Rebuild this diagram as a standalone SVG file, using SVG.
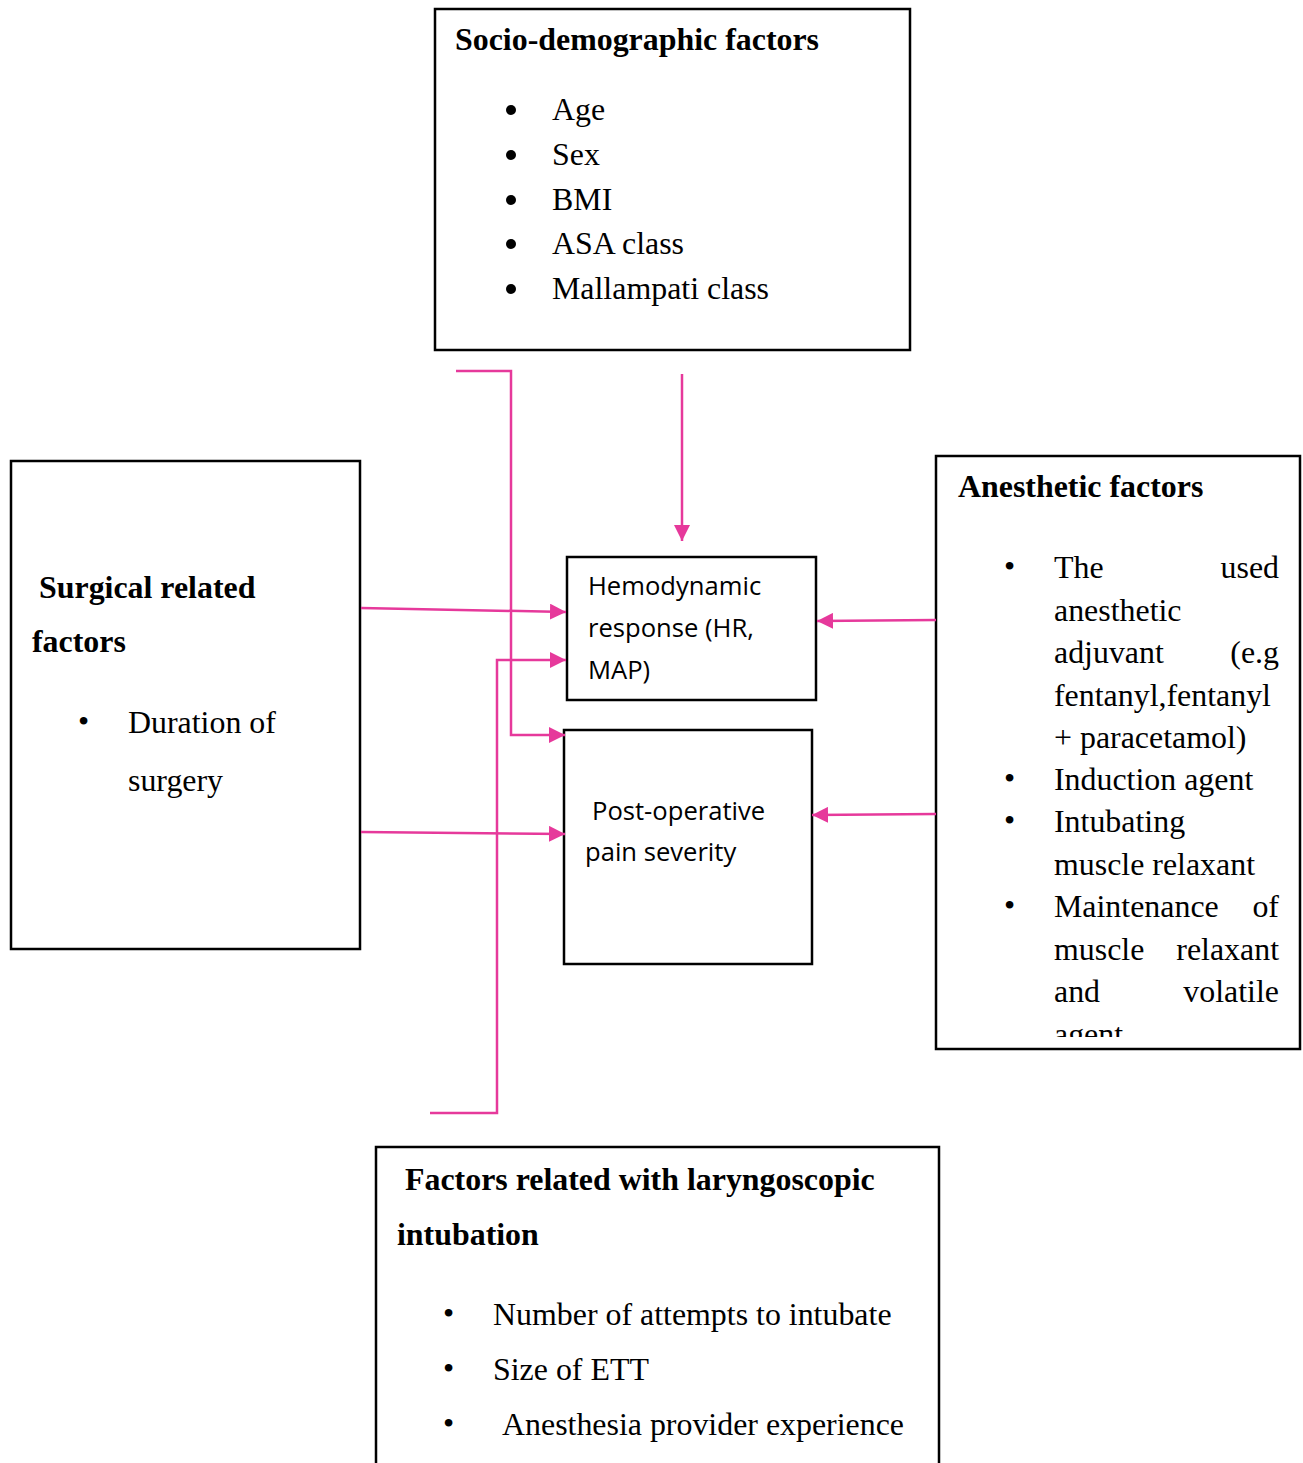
<svg xmlns="http://www.w3.org/2000/svg" width="1303" height="1463" viewBox="0 0 1303 1463">
<style>
.box{fill:#fff;stroke:#000;stroke-width:2.5}
.s{font-family:"Liberation Serif","Times New Roman",serif;font-size:31.9px;fill:#000}
.b{font-weight:bold}
.n{font-family:"Open Sans","Noto Sans",sans-serif;font-size:25.6px;fill:#000}
.c{fill:none;stroke:#E6399B;stroke-width:2.5}
</style>
<defs>
<marker id="ah" markerUnits="userSpaceOnUse" markerWidth="18" markerHeight="16" refX="16" refY="8" orient="auto">
<path d="M0,0 L16,8 L0,16 Z" fill="#E6399B"/>
</marker>
<clipPath id="clipA"><rect x="936" y="456" width="364" height="581"/></clipPath>
</defs>
<rect width="1303" height="1463" fill="#fff"/>

<g id="socio">
<rect class="box" x="435" y="9" width="475" height="341"/>
<text class="s b" x="455" y="50">Socio-demographic factors</text>
<circle cx="511" cy="110" r="5"/><text class="s" x="552" y="120">Age</text>
<circle cx="511" cy="155" r="5"/><text class="s" x="552" y="165">Sex</text>
<circle cx="511" cy="200" r="5"/><text class="s" x="552" y="210">BMI</text>
<circle cx="511" cy="244" r="5"/><text class="s" x="552" y="254">ASA class</text>
<circle cx="511" cy="289" r="5"/><text class="s" x="552" y="299">Mallampati class</text>
</g>

<g id="surgical">
<rect class="box" x="11" y="461" width="349" height="488"/>
<text class="s b" x="39" y="598">Surgical related</text>
<text class="s b" x="32" y="652">factors</text>
<text class="s" x="78" y="732">•</text>
<text class="s" x="128" y="733">Duration of</text>
<text class="s" x="128" y="791">surgery</text>
</g>

<g id="hemodynamic">
<rect class="box" x="567" y="557" width="249" height="143"/>
<text class="n" x="588" y="595">Hemodynamic</text>
<text class="n" x="588" y="637">response (HR,</text>
<text class="n" x="588" y="679">MAP)</text>
</g>

<g id="postop">
<rect class="box" x="564" y="730" width="248" height="234"/>
<text class="n" x="592" y="820">Post-operative</text>
<text class="n" x="585" y="861">pain severity</text>
</g>

<g id="anesthetic">
<rect class="box" x="936" y="456" width="364" height="593"/>
<text class="s b" x="958" y="497">Anesthetic factors</text>
<g clip-path="url(#clipA)">
<text class="s" x="1004" y="577">•</text>
<text class="s" x="1054" y="578">The</text><text class="s" x="1279" y="578" text-anchor="end">used</text>
<text class="s" x="1054" y="621">anesthetic</text>
<text class="s" x="1054" y="663">adjuvant</text><text class="s" x="1279" y="663" text-anchor="end">(e.g</text>
<text class="s" x="1054" y="706">fentanyl,fentanyl</text>
<text class="s" x="1054" y="748">+ paracetamol)</text>
<text class="s" x="1004" y="789">•</text>
<text class="s" x="1054" y="790">Induction agent</text>
<text class="s" x="1004" y="831">•</text>
<text class="s" x="1054" y="832">Intubating</text>
<text class="s" x="1054" y="875">muscle relaxant</text>
<text class="s" x="1004" y="916">•</text>
<text class="s" x="1054" y="917">Maintenance</text><text class="s" x="1279" y="917" text-anchor="end">of</text>
<text class="s" x="1054" y="960">muscle</text><text class="s" x="1279" y="960" text-anchor="end">relaxant</text>
<text class="s" x="1054" y="1002">and</text><text class="s" x="1279" y="1002" text-anchor="end">volatile</text>
<text class="s" x="1054" y="1045">agent</text>
</g>
</g>

<g id="laryngoscopic">
<path class="box" d="M376,1470 V1147 H939 V1470" fill="#fff"/>
<text class="s b" x="405" y="1190">Factors related with laryngoscopic</text>
<text class="s b" x="397" y="1245">intubation</text>
<text class="s" x="443" y="1324">•</text>
<text class="s" x="493" y="1325">Number of attempts to intubate</text>
<text class="s" x="443" y="1379">•</text>
<text class="s" x="493" y="1380">Size of ETT</text>
<text class="s" x="443" y="1434">•</text>
<text class="s" x="502" y="1435">Anesthesia provider experience</text>
</g>

<g id="connectors">
<path class="c" d="M682,374 V541" marker-end="url(#ah)"/>
<path class="c" d="M456,371 H511 V735 H565" marker-end="url(#ah)"/>
<path class="c" d="M430,1113 H497 V660 H566" marker-end="url(#ah)"/>
<path class="c" d="M361,608 L566,612" marker-end="url(#ah)"/>
<path class="c" d="M361,832 L565,834" marker-end="url(#ah)"/>
<path class="c" d="M936,620 L817,621" marker-end="url(#ah)"/>
<path class="c" d="M936,814 L812,815" marker-end="url(#ah)"/>
</g>
</svg>
